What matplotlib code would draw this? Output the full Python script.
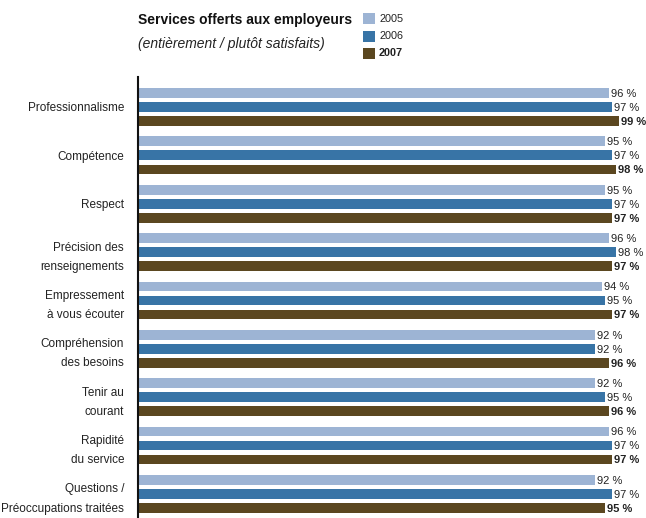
import numpy as np
import matplotlib
matplotlib.use("Agg")
import matplotlib.pyplot as plt

plt.rcParams['font.family'] = ['Liberation Sans', 'DejaVu Sans']

categories = ["Professionnalisme", "Compétence", "Respect",
              "Précision des\nrenseignements", "Empressement\nà vous écouter",
              "Compréhension\ndes besoins", "Tenir au\ncourant",
              "Rapidité\ndu service", "Questions /\nPréoccupations traitées"]
years = ["2005", "2006", "2007"]
v2005 = [96, 95, 95, 96, 94, 92, 92, 96, 92]
v2006 = [97, 97, 97, 98, 95, 92, 95, 97, 97]
v2007 = [99, 98, 97, 97, 97, 96, 96, 97, 95]
colors = ["#9db4d4", "#3874a6", "#5b4720"]

series = [v2005, v2006, v2007]
W, H = 646, 518
ppu = 3.5                      # pixels per percentage point
base = 97 - (612 - 138) / ppu  # value at the left axis (axis does not start at zero)

fig = plt.figure(figsize=(W / 100, H / 100), dpi=100)
ax = fig.add_axes([138 / W, 0, (W - 138) / W, (H - 77) / H])

y = np.arange(len(categories))
step = 0.29
height = 0.2
for k, (vals, col) in enumerate(zip(series, colors)):
    vals = np.array(vals)
    pos = y + (k - 1) * step
    ax.barh(pos, vals - base, left=base, height=height, color=col, linewidth=0)
    for p, v in zip(pos, vals):
        ax.text(v + 0.7, p + 0.02, f"{v} %", va="center", ha="left", fontsize=8,
                fontweight="bold" if k == 2 else "normal", color="#222222")

ax.set_xlim(base, base + (W - 138) / ppu)
ax.set_ylim(len(categories) - 1 + 0.5, -0.62)
ax.set_yticks(y)
ax.set_yticklabels(categories, fontsize=8.5, linespacing=1.8, color="#222222")
ax.tick_params(axis="y", length=0, pad=10)
ax.set_xticks([])
for s in ["top", "right", "bottom"]:
    ax.spines[s].set_visible(False)
ax.spines["left"].set_linewidth(1.5)
ax.spines["left"].set_color("#111111")

# title block
fig.text(138 / W, 1 - 20 / H, "Services offerts aux employeurs", fontsize=10,
         fontweight="bold", va="center", ha="left", color="#111111")
fig.text(138 / W, 1 - 44 / H, "(entièrement / plutôt satisfaits)", fontsize=10,
         style="italic", va="center", ha="left", color="#222222")

# legend
for k, (yr, col) in enumerate(zip(years, colors)):
    yc = 18.5 + k * 17.5
    fig.patches.append(plt.Rectangle((363 / W, 1 - (yc + 5.5) / H), 12 / W, 11 / H,
                                     transform=fig.transFigure, color=col, lw=0))
    fig.text(379 / W, 1 - yc / H, yr, fontsize=7.8, va="center", ha="left",
             fontweight="bold" if k == 2 else "normal", color="#222222")

fig.savefig("out.png", dpi=100)
